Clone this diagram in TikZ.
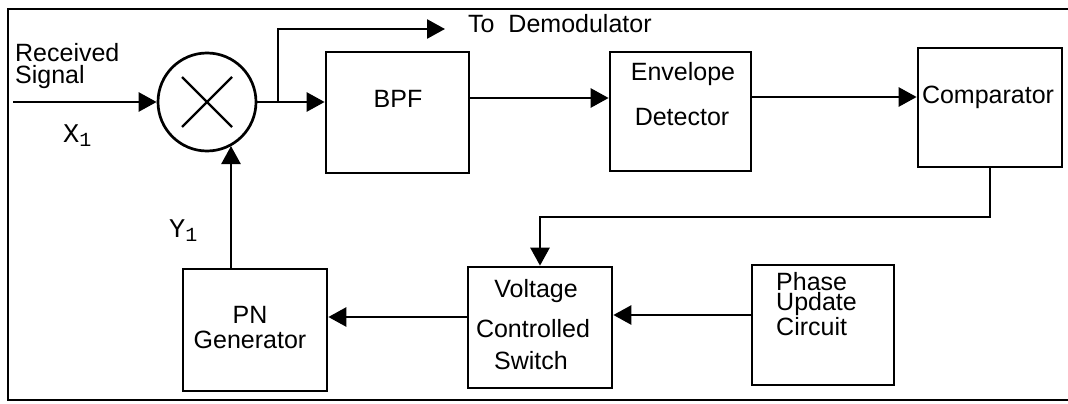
\documentclass[tikz,border=0pt]{standalone}
\usepackage{fontspec}
\setmainfont{Liberation Sans}
\setmonofont{Liberation Mono}
\usetikzlibrary{arrows.meta}
\begin{document}
\begin{tikzpicture}[x=1pt,y=-1pt,
  blk/.style={draw, line width=2.7pt, rectangle, inner sep=0pt},
  mixer/.style={draw, line width=2.7pt, circle, inner sep=0pt, minimum size=98pt},
  lbl/.style={inner sep=0pt, font=\fontsize{25}{25}\selectfont},
  mono/.style={inner sep=0pt, font=\ttfamily\fontsize{27}{27}\selectfont},
  arr/.style={line width=2.7pt, -{Triangle[length=18pt,width=19pt]}},
  frame/.style={line width=2pt}]
\useasboundingbox (0,0) rectangle (1068,404);
\draw[frame] (1068,9) -- (8,9) -- (8,400) -- (1068,400);

% blocks
\node[mixer] (mix) at (207,102) {};
\draw[line width=2.4pt] (mix) ++(-25,-25) -- ++(50,50);
\draw[line width=2.4pt] (mix) ++(-25,25) -- ++(50,-50);
\node[blk, minimum width=143pt, minimum height=121pt] (bpf) at (397.5,112.5) {};
\node[blk, minimum width=141pt, minimum height=119pt] (env) at (680.5,111.5) {};
\node[blk, minimum width=144pt, minimum height=119pt] (comp) at (990,107.5) {};
\node[blk, minimum width=144pt, minimum height=121pt] (vcs) at (540,327.5) {};
\node[blk, minimum width=142pt, minimum height=120pt] (phase) at (823,325) {};
\node[blk, minimum width=144pt, minimum height=122pt] (pn) at (255,330) {};

% texts
\node[lbl, anchor=base west, align=left, font=\fontsize{25}{21}\selectfont] (rs) at (15,83) {Received\\Signal};
\node[mono, anchor=base west] (x1) at (63,142) {X\raisebox{-4pt}{\fontsize{20}{20}\selectfont 1}};
\node[mono, anchor=base west] (y1) at (169,237) {Y\raisebox{-4pt}{\fontsize{20}{20}\selectfont 1}};
\node[lbl, anchor=base west] (todem) at (468,33) {To\ \ Demodulator};
\node[lbl, anchor=base] (tbpf) at (398,107) {BPF};
\node[lbl, anchor=base] (tenv1) at (683,81) {Envelope};
\node[lbl, anchor=base] (tenv2) at (682,125) {Detector};
\node[lbl, anchor=base] (tcomp) at (988,103) {Comparator};
\node[lbl, anchor=base] (tvcs1) at (536,297) {Voltage};
\node[lbl, anchor=base] (tvcs2) at (533,337) {Controlled};
\node[lbl, anchor=base] (tvcs3) at (531,369) {Switch};
\node[lbl, anchor=base west, align=left, font=\fontsize{25}{20}\selectfont] (tph) at (776,335) {Phase\\Update\\Circuit};
\node[lbl, anchor=base] (tpn1) at (250,323) {PN};
\node[lbl, anchor=base] (tpn2) at (250,348) {Generator};

% connectors
\coordinate (inL) at (13,102);
\coordinate (br) at (278,102);
\coordinate (demod) at (445,29);
\coordinate (fb) at (0,217);
\draw[arr] (inL) -- (mix.west);
\draw[arr] (mix.east) -- (mix.east -| bpf.west);
\draw[arr] (br) |- (demod);
\draw[arr] ([yshift=14.5pt]bpf.east) -- ([yshift=14.5pt]bpf.east -| env.west);
\draw[arr] ([yshift=14.5pt]env.east) -- ([yshift=14.5pt]env.east -| comp.west);
\draw[arr] (comp.south) -- (comp.south |- fb) -| (vcs.north);
\draw[arr] ([yshift=10pt]phase.west) -- ([yshift=10pt]phase.west -| vcs.east);
\draw[arr] ([yshift=10.5pt]vcs.west) -- ([yshift=10.5pt]vcs.west -| pn.east);
\draw[arr] ([xshift=-24pt]pn.north) -- ([xshift=-24pt]pn.north |- mix.-61);
\end{tikzpicture}
\end{document}
